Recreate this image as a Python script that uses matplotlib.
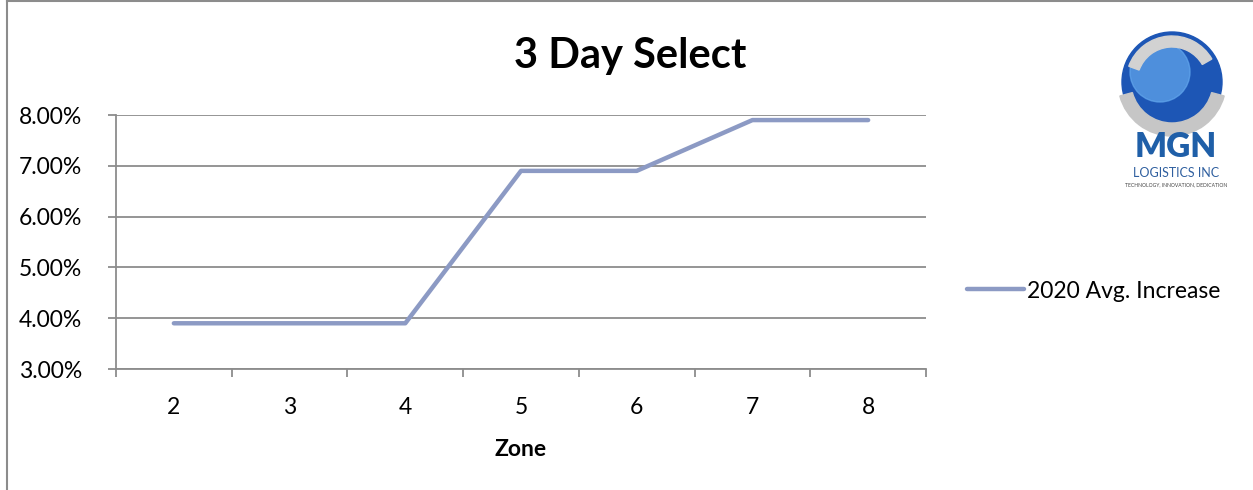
import numpy as np
import matplotlib.pyplot as plt
from matplotlib.patches import Circle, Wedge
from matplotlib.lines import Line2D

# -------------------------------
# Data
# -------------------------------
zones = ["2", "3", "4", "5", "6", "7", "8"]
increase = [3.9, 3.9, 3.9, 6.9, 6.9, 7.9, 7.9]
series_name = "2020 Avg. Increase"
y_ticks = [3, 4, 5, 6, 7, 8]

plt.rcParams["font.family"] = ["Lato", "DejaVu Sans"]

W, H = 1253, 490
fig = plt.figure(figsize=(W / 100, H / 100), dpi=100)

# chart border (left and top edges visible)
fig.add_artist(Line2D([7 / W, 7 / W], [0, 1], color="#8c8c8c", lw=1.5))
fig.add_artist(Line2D([7 / W, 1], [1 - 1 / H, 1 - 1 / H], color="#8c8c8c", lw=1.5))

ax = fig.add_axes([116 / W, 1 - 369 / H, (926 - 116) / W, (369 - 115) / H])

x = np.arange(len(zones))
line, = ax.plot(x, increase, color="#8c9ac4", lw=3.2, solid_capstyle="round",
                label=series_name)

ax.set_xlim(-0.5, len(zones) - 0.5)
ax.set_ylim(3, 8)
ax.set_yticks(y_ticks)
ax.set_yticklabels([f"{v:.2f}%" for v in y_ticks], fontsize=16.5)
ax.yaxis.grid(True, color="#8c8c8c", lw=1.3)
ax.set_axisbelow(True)

ax.set_xticks(np.arange(-0.5, len(zones), 1))
ax.set_xticklabels([])
ax.set_xticks(x, minor=True)
ax.set_xticklabels(zones, minor=True, fontsize=16.5)
ax.tick_params(axis="x", which="minor", length=0, pad=20)
ax.tick_params(axis="x", which="major", direction="out", length=6, color="#8c8c8c", width=1.3)
ax.tick_params(axis="y", direction="out", length=6, color="#8c8c8c", width=1.3, pad=18.5)

for s in ["top", "right"]:
    ax.spines[s].set_visible(False)
for s in ["left", "bottom"]:
    ax.spines[s].set_color("#8c8c8c")
    ax.spines[s].set_linewidth(1.3)

ax.set_xlabel("Zone", fontsize=16.5, fontweight="bold", labelpad=15.5)

fig.text(630 / W, 1 - 56 / H, "3 Day Select", ha="center", va="center",
         fontsize=30, fontweight="bold")

fig.legend(handles=[line], loc="center left", frameon=False,
           bbox_to_anchor=(946 / W, 1 - 291 / H), fontsize=16.5,
           handlelength=2.5, handletextpad=0.15)

# -------------------------------
# Logo (rough sketch, pixel coords)
# -------------------------------
lax = fig.add_axes([1100 / W, 1 - 200 / H, 150 / W, 180 / H])
lax.set_xlim(1100, 1250)
lax.set_ylim(200, 20)
lax.axis("off")
lax.add_patch(Circle((1172, 82), 50, color="#1d56b5"))
lax.add_patch(Circle((1160, 72), 30, color="#63a8ee", alpha=0.7))
lax.add_patch(Wedge((1172, 82), 54, 15, 165, width=13, color="#c6c6c6"))
lax.add_patch(Wedge((1172, 82), 46, 200, 330, width=11, color="#d2d2d2"))
lax.text(1176, 147, "MGN", ha="center", va="center", fontsize=24, fontweight="heavy",
         color="#1f5fa8")
lax.text(1176, 173, "LOGISTICS INC", ha="center", va="center", fontsize=9,
         color="#2f5f9f")
lax.text(1176, 185, "TECHNOLOGY, INNOVATION, DEDICATION", ha="center", va="center",
         fontsize=3.6, color="#444444")

fig.savefig("out.png", dpi=100)
